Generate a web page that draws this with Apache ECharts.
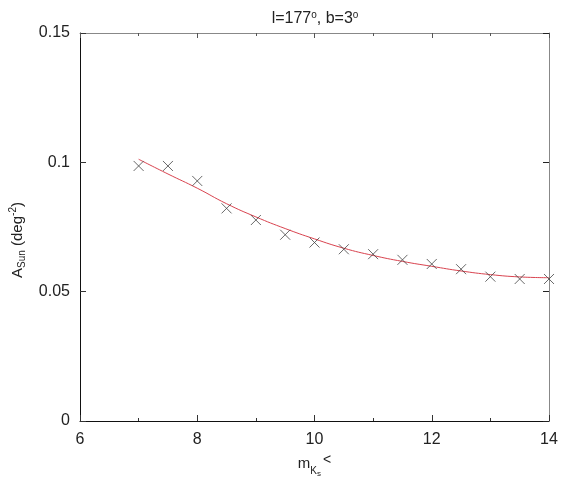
<!DOCTYPE html>
<html><head><meta charset="utf-8">
<script src="https://cdn.jsdelivr.net/npm/echarts@6/dist/echarts.min.js"></script>
<style>html,body{margin:0;padding:0;background:#fff}#c{width:570px;height:479px}</style>
</head><body><div id="c"></div>
<script>
const magnitudes = [7, 7.5, 8, 8.5, 9, 9.5, 10, 10.5, 11, 11.5, 12, 12.5, 13, 13.5, 14];
const measured = [0.0986, 0.0986, 0.0928, 0.0822, 0.0777, 0.0720, 0.0690, 0.0664, 0.0645, 0.0623, 0.0607, 0.0587, 0.0558, 0.0549, 0.0549];
const fitX = [7, 7.5, 8, 8.5, 9, 9.5, 10, 10.5, 11, 11.5, 12, 12.5, 13, 13.5, 14];
const fitY = [0.1012, 0.0955, 0.0900, 0.0840, 0.0789, 0.0744, 0.0704, 0.0668, 0.0640, 0.0617, 0.0598, 0.0580, 0.0566, 0.0557, 0.0554];
const yTicks = [0, 0.05, 0.1, 0.15];

const font = 'Liberation Sans, Arial, sans-serif';
const chart = echarts.init(document.getElementById('c'), null, {renderer: 'canvas'});
chart.setOption({
  animation: false,
  backgroundColor: '#fff',
  title: {
    text: '{n|l=177}{s|o}{n|, b=3}{s|o}',
    left: 310, top: 5, textAlign: 'center',
    textStyle: {
      fontWeight: 'normal',
      rich: {
        n: {fontFamily: font, fontSize: 16, fontWeight: 'normal', color: '#222'},
        s: {fontFamily: font, fontSize: 10, fontWeight: 'normal', color: '#222', verticalAlign: 'top', padding: [0, 0, 8, 0]}
      }
    }
  },
  grid: {left: 80, right: 21, top: 33, bottom: 58, outerBoundsMode: 'none', containLabel: false},
  xAxis: [{
    type: 'value', min: 6, max: 14, interval: 2, position: 'bottom',
    axisLine: {onZero: false, lineStyle: {color: '#111', width: 1}},
    axisTick: {inside: true, length: 6, lineStyle: {color: '#333'}},
    minorTick: {show: true, splitNumber: 2, length: 3, lineStyle: {color: '#333'}},
    splitLine: {show: false},
    axisLabel: {fontFamily: font, fontSize: 16, color: '#222', margin: 11},
    name: '{m|m}{k|K}{ss|s}{lt|<}', nameLocation: 'middle', nameGap: 27,
    nameTextStyle: {
      rich: {
        m: {fontFamily: font, fontSize: 15, color: '#222', verticalAlign: 'bottom', padding: [0, 0, 7, 0]},
        k: {fontFamily: font, fontSize: 10, color: '#222', verticalAlign: 'bottom', padding: [0, 0, 2, 0]},
        ss: {fontFamily: font, fontSize: 8, color: '#222', verticalAlign: 'bottom', padding: [0, 2, 0, 0]},
        lt: {fontFamily: font, fontSize: 14, color: '#222', verticalAlign: 'bottom', padding: [0, 0, 11, 0]}
      }
    }
  }, {
    type: 'value', min: 6, max: 14, interval: 2, position: 'top',
    axisLine: {show: true, onZero: false, lineStyle: {color: '#888', width: 1}},
    axisTick: {show: true, inside: true, length: 5, lineStyle: {color: '#555'}},
    minorTick: {show: true, splitNumber: 2, length: 3, lineStyle: {color: '#555'}},
    splitLine: {show: false},
    axisLabel: {show: false}
  }],
  yAxis: [{
    type: 'value', min: 0, max: 0.15, interval: 0.05, position: 'left',
    axisLine: {show: true, onZero: false, lineStyle: {color: '#111', width: 1}},
    axisTick: {show: true, inside: true, length: 6, lineStyle: {color: '#333'}},
    splitLine: {show: false},
    axisLabel: {fontFamily: font, fontSize: 16, color: '#222', margin: 10,
      formatter: function (v) { const t = yTicks.find(x => Math.abs(x - v) < 1e-9); return String(t === undefined ? v : t); }},
    name: '{a|A}{sub|Sun}{a| (deg}{sup|-2}{e|)}', nameLocation: 'middle', nameGap: 52, nameRotate: 90,
    nameTextStyle: {
      rich: {
        a: {fontFamily: font, fontSize: 15, color: '#222'},
        e: {fontFamily: font, fontSize: 15, color: '#222', padding: [0, 26, 0, 0]},
        sub: {fontFamily: font, fontSize: 10, color: '#222', padding: [8, 0, 0, 0]},
        sup: {fontFamily: font, fontSize: 10, color: '#222', padding: [0, 0, 10, 0]}
      }
    }
  }, {
    type: 'value', min: 0, max: 0.15, interval: 0.05, position: 'right',
    axisLine: {show: true, onZero: false, lineStyle: {color: '#888', width: 1}},
    axisTick: {show: true, inside: true, length: 6, lineStyle: {color: '#222'}},
    splitLine: {show: false},
    axisLabel: {show: false}
  }],
  series: [{
    type: 'line', xAxisIndex: 0, yAxisIndex: 0,
    data: fitX.map((x, i) => [x, fitY[i]]),
    smooth: 0.5, showSymbol: false,
    lineStyle: {color: '#d9434f', width: 1}, z: 2
  }, {
    type: 'scatter', xAxisIndex: 0, yAxisIndex: 0,
    data: magnitudes.map((x, i) => [x, measured[i]]),
    symbol: 'path://M0,0L10,10M10,0L0,10', symbolSize: 10,
    itemStyle: {color: 'none', borderColor: '#444', borderWidth: 1}, z: 3
  }]
});
</script></body></html>
